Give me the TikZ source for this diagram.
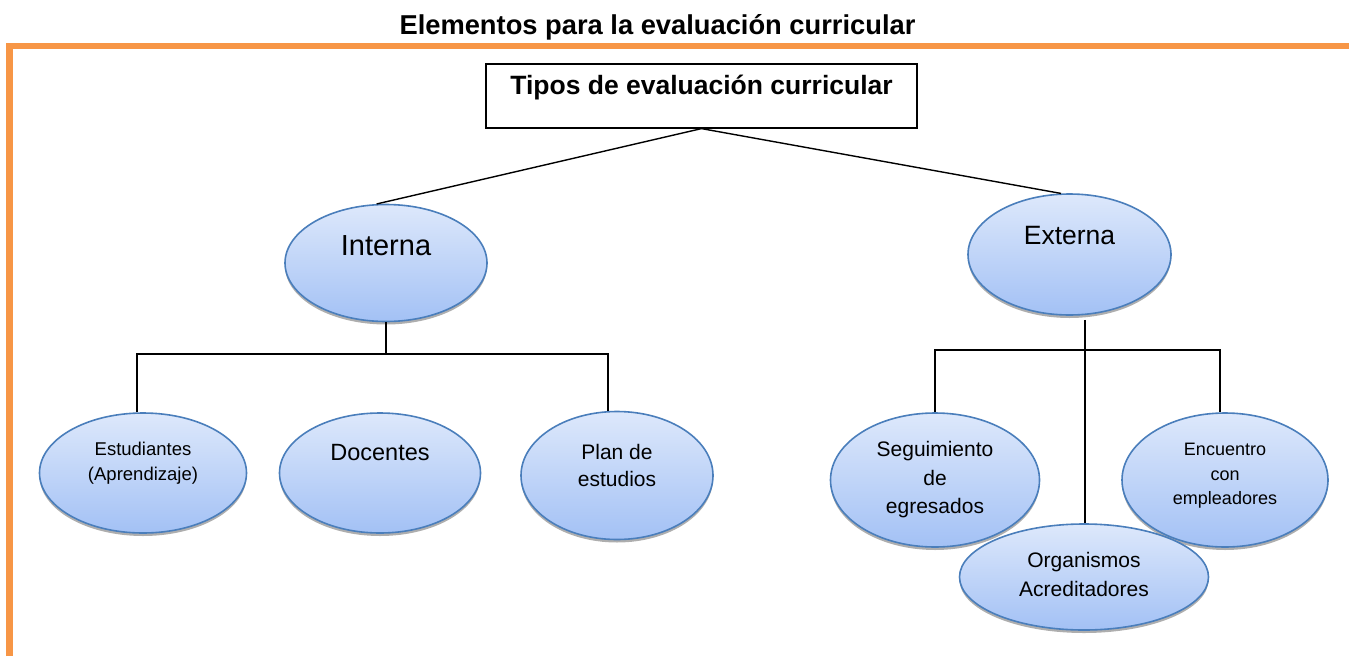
\documentclass[tikz,border=0pt]{standalone}
\usepackage{fontspec}
\setmainfont{Liberation Sans}
\usetikzlibrary{shapes.geometric,shadows}

\definecolor{bordeorange}{HTML}{F79646}
\definecolor{elipseborde}{HTML}{4A7EBB}
\definecolor{elipsearriba}{HTML}{DDE8FB}
\definecolor{elipseabajo}{HTML}{A3C1F5}

\tikzset{
  elipse/.style={ellipse, draw=elipseborde, line width=1.6pt, inner sep=0pt,
    top color=elipsearriba, bottom color=elipseabajo,
    drop shadow={shadow xshift=0pt, shadow yshift=-3pt, fill=black!45, opacity=0.7}},
  conector/.style={draw=black, line width=1.4pt},
  titulo/.style={font=\bfseries\fontsize{26.5}{30}\selectfont},
}

\begin{document}
\begin{tikzpicture}[x=1pt,y=-1pt]
\useasboundingbox (0,0) rectangle (1349,656);
% marco naranja
\draw [bordeorange, line width=6.5pt] (9.5,656) -- (9.5,46) -- (1349,46);
\node [titulo, font=\bfseries\fontsize{27.3}{30}\selectfont] (titulo) at (657.5,27) {Elementos para la evaluación curricular};

% caja superior
\node [draw, line width=1.2pt, minimum width=431pt, minimum height=64pt, inner sep=0pt,
  label={[titulo, yshift=8pt]center:Tipos de evaluación curricular}] (tipos) at (701.5,96) {};

% primer nivel
\node [elipse, minimum width=202pt, minimum height=117pt,
  label={[font=\fontsize{29}{32}\selectfont, yshift=17pt]center:Interna}] (interna) at (386,263) {};
\node [elipse, minimum width=203pt, minimum height=121pt,
  label={[font=\fontsize{26.5}{30}\selectfont, yshift=19pt]center:Externa}] (externa) at (1069.5,254.5) {};

% interna
\node [elipse, minimum width=207pt, minimum height=120pt,
  label={[font=\fontsize{18.5}{25}\selectfont, align=center, yshift=10pt]center:Estudiantes\\(Aprendizaje)}] (estud) at (143,473) {};
\node [elipse, minimum width=201pt, minimum height=120pt,
  label={[font=\fontsize{23.5}{28}\selectfont, yshift=20pt]center:Docentes}] (docen) at (380,473) {};
\node [elipse, minimum width=192pt, minimum height=128pt,
  label={[font=\fontsize{21}{27}\selectfont, align=center, yshift=10pt]center:Plan de\\estudios}] (plan) at (617,475.5) {};

% externa
\node [elipse, minimum width=209pt, minimum height=134pt,
  label={[font=\fontsize{21}{28.5}\selectfont, align=center]center:Seguimiento\\de\\egresados}] (segui) at (935,480) {};
\node [elipse, minimum width=206pt, minimum height=134pt,
  label={[font=\fontsize{18}{24.5}\selectfont, align=center, yshift=4pt]center:Encuentro\\con\\empleadores}] (encu) at (1225,480) {};
\node [elipse, minimum width=249pt, minimum height=106pt,
  label={[font=\fontsize{21}{29}\selectfont, align=center, yshift=3pt]center:Organismos\\Acreditadores}] (organ) at (1084,577) {};

\coordinate (ibar) at (386,354);
\coordinate (ebar) at (1085,350);

\draw [conector] (tipos.south) -- (interna.99);
\draw [conector] (tipos.south) -- (externa.98);
\draw [conector] (interna.south) -- (ibar);
\draw [conector] ([xshift=-6pt]estud.north) |- (ibar) -| ([xshift=-9pt]plan.north);
\draw [conector] (ebar |- externa.south) ++(0,4) -- (ebar);
\draw [conector] (segui.north) |- (ebar) -| ([xshift=-5pt]encu.north);
\draw [conector] (ebar) -- (ebar |- organ.north);
\end{tikzpicture}
\end{document}
